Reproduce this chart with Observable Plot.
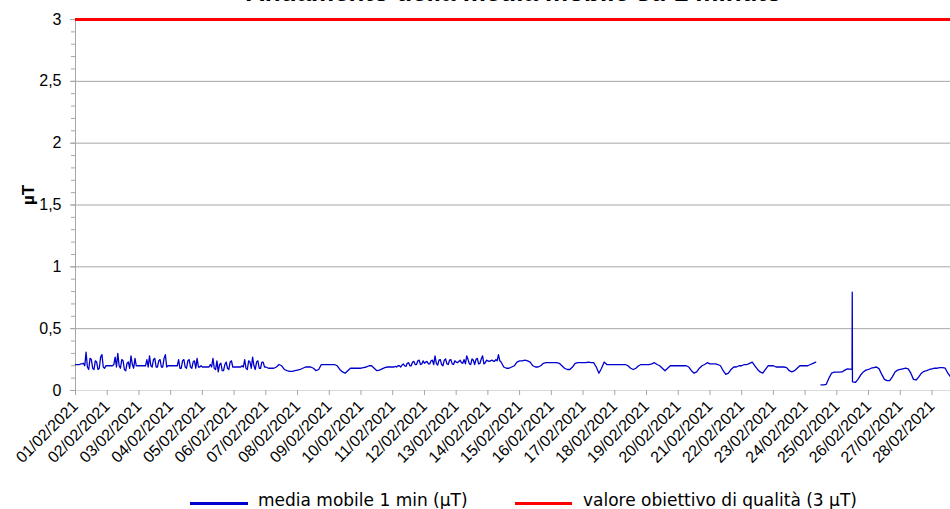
<!DOCTYPE html>
<html><head><meta charset="utf-8">
<script src="https://cdn.jsdelivr.net/npm/d3@7"></script>
<script src="https://cdn.jsdelivr.net/npm/@observablehq/plot@0.6"></script>
<style>
body{margin:0;background:#fff;overflow:hidden}
#wrap{position:relative;width:950px;height:509px;overflow:hidden;background:#fff}
#title{position:absolute;left:514px;transform:translateX(-50%);top:-21px;white-space:nowrap;font:bold 26px "Liberation Sans",Arial,sans-serif;line-height:26px;color:#000}
#chart{position:absolute;left:0;top:0}
.lg{position:absolute;height:3px}
.lt{position:absolute;top:490px;font:17px "DejaVu Sans",sans-serif;line-height:20px;white-space:nowrap;color:#000}
</style></head>
<body><div id="wrap">
<div id="chart"></div>
<div id="title"></div>
<div id="legend"></div>
</div>
<script>
const titleText = "Andamento della media mobile su 1 minuto";
const yLabel = "µT";
const seriesNames = ["media mobile 1 min (µT)", "valore obiettivo di qualità (3 µT)"];
const seriesColors = ["#0000cc", "#ff0000"];
const threshold = 3;
const yTicks = [0, 0.5, 1, 1.5, 2, 2.5, 3];
const yTickLabels = ["0", "0,5", "1", "1,5", "2", "2,5", "3"];
const dayLabels = ["01/02/2021","02/02/2021","03/02/2021","04/02/2021","05/02/2021","06/02/2021","07/02/2021",
  "08/02/2021","09/02/2021","10/02/2021","11/02/2021","12/02/2021","13/02/2021","14/02/2021",
  "15/02/2021","16/02/2021","17/02/2021","18/02/2021","19/02/2021","20/02/2021","21/02/2021",
  "22/02/2021","23/02/2021","24/02/2021","25/02/2021","26/02/2021","27/02/2021","28/02/2021"];
const seriesStart = "2021-02-01T00:00";
const seriesEnd = "2021-02-28T14:00";
const stepHours = 2;
// 1-min moving average, read every 2 hours at even hours (null = missing data)
const values = [
  0.21,0.21,0.215,0.22,0.31,0.17,0.25,0.17,0.23,0.18,0.29,0.18,       // 01/02
  0.2,0.2,0.2,0.27,0.30,0.18,0.24,0.16,0.23,0.28,0.18,0.2,            // 02/02
  0.2,0.2,0.2,0.25,0.28,0.19,0.26,0.19,0.25,0.19,0.29,0.2,            // 03/02
  0.2,0.2,0.2,0.25,0.18,0.25,0.18,0.25,0.18,0.24,0.26,0.19,           // 04/02
  0.19,0.19,0.19,0.21,0.26,0.17,0.15,0.22,0.16,0.23,0.17,0.24,        // 05/02
  0.19,0.19,0.19,0.2,0.25,0.17,0.23,0.27,0.17,0.24,0.18,0.23,         // 06/02
  0.19,0.18,0.18,0.18,0.19,0.21,0.2,0.17,0.16,0.155,0.155,0.16,       // 07/02
  0.165,0.17,0.18,0.19,0.19,0.19,0.18,0.16,0.17,0.21,0.21,0.21,       // 08/02
  0.21,0.21,0.21,0.2,0.17,0.15,0.14,0.16,0.18,0.18,0.18,0.18,         // 09/02
  0.18,0.185,0.19,0.2,0.2,0.18,0.16,0.165,0.175,0.185,0.19,0.19,      // 10/02
  0.19,0.195,0.2,0.19,0.215,0.195,0.225,0.2,0.235,0.21,0.245,0.215,   // 11/02
  0.22,0.235,0.215,0.245,0.28,0.205,0.25,0.2,0.255,0.21,0.25,0.21,    // 12/02
  0.23,0.235,0.225,0.25,0.28,0.215,0.255,0.21,0.26,0.22,0.28,0.225,   // 13/02
  0.24,0.24,0.24,0.25,0.29,0.23,0.19,0.18,0.18,0.19,0.2,0.23,         // 14/02
  0.24,0.24,0.245,0.24,0.23,0.2,0.19,0.19,0.2,0.22,0.225,0.225,       // 15/02
  0.225,0.225,0.225,0.22,0.2,0.18,0.17,0.17,0.19,0.22,0.225,0.225,    // 16/02
  0.225,0.225,0.23,0.225,0.225,0.19,0.14,0.18,0.23,0.21,0.21,0.21,    // 17/02
  0.21,0.21,0.21,0.21,0.21,0.2,0.18,0.17,0.18,0.2,0.21,0.21,          // 18/02
  0.21,0.21,0.215,0.225,0.21,0.2,0.18,0.16,0.18,0.2,0.2,0.2,          // 19/02
  0.2,0.2,0.2,0.2,0.19,0.16,0.14,0.15,0.18,0.2,0.21,0.225,            // 20/02
  0.215,0.215,0.215,0.21,0.2,0.16,0.13,0.14,0.17,0.19,0.19,0.2,       // 21/02
  0.2,0.21,0.21,0.22,0.23,0.2,0.17,0.15,0.14,0.17,0.2,0.2,            // 22/02
  0.2,0.19,0.19,0.19,0.19,0.185,0.16,0.15,0.16,0.18,0.2,0.2,          // 23/02
  0.2,0.2,0.21,0.22,0.23,null,0.045,0.045,0.05,0.1,0.14,0.148,        // 24/02
  0.148,0.148,0.15,0.165,0.175,0.172,0.07,0.065,0.09,0.125,0.15,0.165,// 25/02
  0.17,0.18,0.185,0.19,0.175,0.13,0.09,0.08,0.08,0.11,0.15,0.165,     // 26/02
  0.17,0.175,0.18,0.175,0.14,0.09,0.085,0.11,0.14,0.155,0.16,0.17,    // 27/02
  0.175,0.18,0.18,0.185,0.185,0.18,0.14,0.11                          // 28/02
];
// extra readings at odd hours in the noisy periods (01-06/02 and 11-14/02)
const oddStartA = "2021-02-01T01:00";
const oddValuesA = [
  0.21,0.21,0.215,0.2,0.19,0.26,0.18,0.24,0.17,0.27,0.19,0.2,         // 01/02
  0.2,0.2,0.21,0.19,0.2,0.25,0.17,0.22,0.18,0.21,0.26,0.2,            // 02/02
  0.2,0.2,0.2,0.19,0.2,0.25,0.19,0.24,0.19,0.26,0.19,0.2,             // 03/02
  0.2,0.2,0.2,0.18,0.24,0.19,0.24,0.19,0.23,0.18,0.19,0.2,            // 04/02
  0.19,0.19,0.19,0.19,0.18,0.24,0.21,0.16,0.21,0.18,0.23,0.19,        // 05/02
  0.19,0.19,0.19,0.19,0.18,0.24,0.18,0.2,0.23,0.18,0.23,0.19          // 06/02
];
const oddStartB = "2021-02-11T01:00";
const oddValuesB = [
  0.19,0.19,0.2,0.205,0.2,0.22,0.2,0.23,0.21,0.24,0.21,0.24,          // 11/02
  0.23,0.215,0.24,0.21,0.22,0.245,0.21,0.245,0.215,0.245,0.215,0.24,  // 12/02
  0.225,0.245,0.22,0.215,0.25,0.21,0.245,0.25,0.215,0.255,0.215,0.245,// 13/02
  0.235,0.245,0.235,0.24,0.24                                         // 14/02
];
// short spike on 25/02
const spikeTimes = ["2021-02-25T11:30", "2021-02-25T11:40", "2021-02-25T11:50"];
const spikeValues = [0.17, 0.795, 0.07];

function series(startStr, vals) {
  const s = new Date(startStr);
  return vals.map((v, i) => ({t: new Date(s.getTime() + i * stepHours * 3600e3), v}));
}
const data = [
  ...series(seriesStart, values),
  ...series(oddStartA, oddValuesA),
  ...series(oddStartB, oddValuesB),
  ...spikeTimes.map((s, i) => ({t: new Date(s), v: spikeValues[i]}))
].sort((a, b) => a.t - b.t);

const parseDay = d3.timeParse("%d/%m/%Y");
const dayTicks = dayLabels.map(parseDay);
const minorTicks = d3.range(0, 31).map(i => i / 10);
const gridTicks = yTicks.filter(v => v > 0 && v < threshold);
const font = '"Liberation Sans", Arial, sans-serif';

const chart = Plot.plot({
  width: 950, height: 480,
  marginLeft: 75, marginRight: 0, marginTop: 19, marginBottom: 90,
  style: {background: "#fff", fontFamily: font, fontSize: "16px", color: "#000", overflow: "visible"},
  x: {type: "time", domain: [new Date(seriesStart), new Date(seriesEnd)]},
  y: {domain: [0, 3]},
  marks: [
    Plot.ruleY(gridTicks, {stroke: "#a6a6a6", strokeWidth: 1}),
    Plot.ruleY([0], {stroke: "#d9d9d9", strokeWidth: 1}),
    Plot.ruleX([new Date(seriesStart)], {stroke: "#a6a6a6", strokeWidth: 1}),
    Plot.axisY({ticks: minorTicks, tickSize: 4, tickFormat: () => "", stroke: "#a6a6a6", label: null}),
    Plot.axisY({ticks: yTicks, tickSize: 5, tickPadding: 9, tickFormat: (d) => yTickLabels[yTicks.indexOf(d)],
      stroke: "#a6a6a6", fill: "#000", fontSize: 16, label: null}),
    Plot.axisX({ticks: dayTicks, tickSize: 5, tickPadding: 8, tickRotate: -45, textAnchor: "end", fontSize: 16,
      tickFormat: d => dayLabels[dayTicks.findIndex(x => +x === +d)], stroke: "#a6a6a6", fill: "#000", label: null}),
    Plot.text([yLabel], {frameAnchor: "left", dx: -47, rotate: -90, fontWeight: "bold", fontSize: 17, fill: "#000"}),
    Plot.lineY(data, {x: "t", y: "v", stroke: seriesColors[0], strokeWidth: 1.3, strokeLinejoin: "round"}),
    Plot.ruleY([threshold], {stroke: seriesColors[1], strokeWidth: 3})
  ]
});
document.getElementById("chart").appendChild(chart);
document.getElementById("title").textContent = titleText;

const legendItems = [
  {line: 190, w: 58, text: 258},
  {line: 515, w: 57, text: 583}
];
const lg = document.getElementById("legend");
legendItems.forEach((it, i) => {
  const l = document.createElement("div");
  l.className = "lg";
  l.style.left = it.line + "px"; l.style.top = "502px"; l.style.width = it.w + "px";
  l.style.background = seriesColors[i];
  lg.appendChild(l);
  const t = document.createElement("div");
  t.className = "lt";
  t.style.left = it.text + "px";
  t.textContent = seriesNames[i];
  lg.appendChild(t);
});
</script>
</body></html>
